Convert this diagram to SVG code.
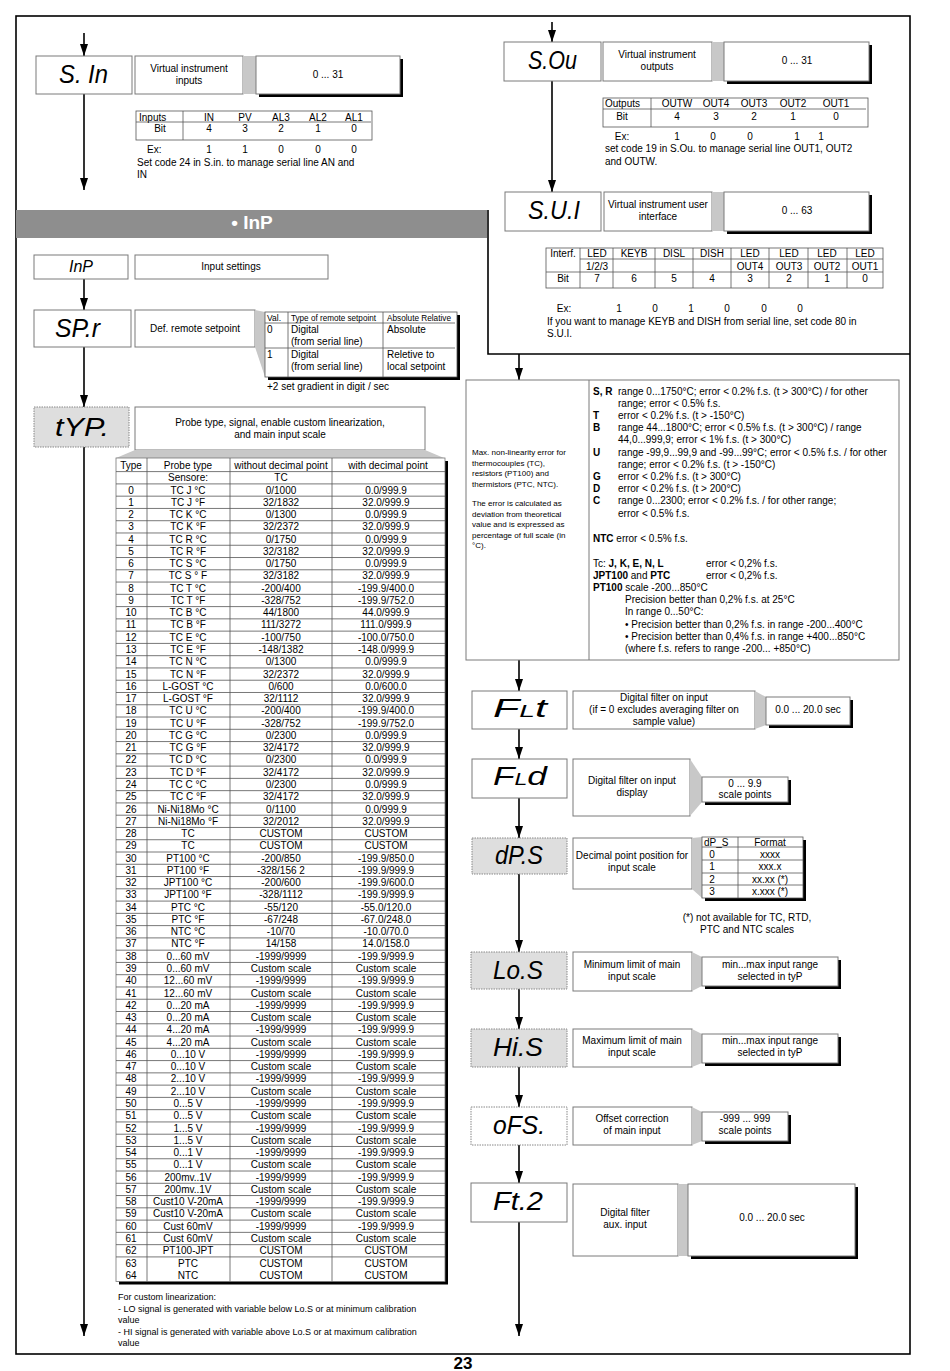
<svg xmlns="http://www.w3.org/2000/svg" width="950" height="1371" viewBox="0 0 950 1371">
<defs>
<marker id="arr" markerUnits="userSpaceOnUse" markerWidth="12" markerHeight="8" viewBox="0 -4 12 8" refX="12" refY="0" orient="auto">
<path d="M0,-4 L12,0 L0,4 z" fill="#000"/>
</marker>
</defs>
<style>
.t{font-family:"Liberation Sans",Arial,sans-serif;font-size:10px;fill:#000}
.s{font-size:9px}
.xs{font-size:8px}
.m{text-anchor:middle}
.b{font-weight:bold}
.seg{font-family:"Liberation Sans",Arial,sans-serif;font-size:26px;font-style:italic;fill:#000}
.box{fill:#fff;stroke:#7a7a7a;stroke-width:1}
.dbox{fill:#fff;stroke:#888;stroke-width:1;stroke-dasharray:1.5 1}
.gbox{fill:#dedede;stroke:#888;stroke-width:1;stroke-dasharray:1.5 1}
.sh{fill:#000}
.strip{fill:#c8c8c8}
.wedge{fill:#c8c8c8}
.tl{stroke:#555;stroke-width:0.8;fill:none}
.conn{stroke:#000;stroke-width:1.6;fill:none;marker-end:url(#arr)}
</style>
<rect x="0" y="0" width="950" height="1371" fill="#fff"/>
<g id="frame">
<rect x="16" y="16" width="894" height="1338" fill="none" stroke="#000" stroke-width="1.6"/>
<path d="M488 210 V354 H910" fill="none" stroke="#000" stroke-width="1.6"/>
<rect x="16" y="210" width="471" height="28" fill="#8e8e8e"/>
<text class="t b m" x="252" y="229" style="font-size:19px;fill:#fff">• InP</text>
<text class="t b m" x="463" y="1369" style="font-size:17px">23</text>
</g>

<g id="connectors">
<path class="conn" d="M84 33 V56"/>
<path class="conn" d="M84 94 V190"/>
<path class="conn" d="M84 279 V310"/>
<path class="conn" d="M84 347 V407"/>
<path class="conn" d="M84 447 V1336"/>
<path class="conn" d="M552 22 V42"/>
<path class="conn" d="M552 81 V192"/>
<path class="conn" d="M519 354 V380"/>
<path class="conn" d="M519 660 V691"/>
<path class="conn" d="M519 729 V759"/>
<path class="conn" d="M519 798 V838"/>
<path class="conn" d="M519 874 V952"/>
<path class="conn" d="M519 989 V1029"/>
<path class="conn" d="M519 1067 V1107"/>
<path class="conn" d="M519 1145 V1183"/>
<path class="conn" d="M519 1222 V1336"/>
</g>

<g id="node-sin">
<rect class="box" x="36" y="56" width="96" height="38"/>
<text class="seg" x="59" y="83" textLength="49" lengthAdjust="spacingAndGlyphs">S. In</text>
<rect class="box" x="135" y="56" width="108" height="38"/>
<text class="t m" x="189" y="72">Virtual instrument</text>
<text class="t m" x="189" y="84">inputs</text>
<rect class="strip" x="243" y="56" width="13" height="38"/>
<rect class="sh" x="259" y="59" width="144" height="38"/>
<rect class="box" x="256" y="56" width="144" height="38"/>
<text class="t m" x="328" y="78">0 ... 31</text>
<rect x="136" y="111" width="236" height="29" class="tl"/>
<path class="tl" d="M183 111 V140 M136 122 H371"/>
<text class="t" x="139" y="121">Inputs</text>
<text class="t m" x="209" y="121">IN</text><text class="t m" x="245" y="121">PV</text><text class="t m" x="281" y="121">AL3</text><text class="t m" x="318" y="121">AL2</text><text class="t m" x="354" y="121">AL1</text>
<text class="t m" x="160" y="132">Bit</text>
<text class="t m" x="209" y="132">4</text><text class="t m" x="245" y="132">3</text><text class="t m" x="281" y="132">2</text><text class="t m" x="318" y="132">1</text><text class="t m" x="354" y="132">0</text>
<text class="t" x="147" y="153">Ex:</text>
<text class="t m" x="209" y="153">1</text><text class="t m" x="245" y="153">1</text><text class="t m" x="281" y="153">0</text><text class="t m" x="318" y="153">0</text><text class="t m" x="354" y="153">0</text>
<text class="t" x="137" y="166">Set code 24 in S.in. to manage serial line AN and</text>
<text class="t" x="137" y="178">IN</text>
</g>

<g id="node-sou">
<rect class="box" x="504" y="42" width="97" height="39"/>
<text class="seg" x="528" y="69" textLength="49" lengthAdjust="spacingAndGlyphs">S.Ou</text>
<rect class="box" x="603" y="42" width="109" height="39"/>
<text class="t m" x="657" y="58">Virtual instrument</text>
<text class="t m" x="657" y="70">outputs</text>
<rect class="strip" x="712" y="42" width="12" height="39"/>
<rect class="sh" x="727" y="45" width="145" height="39"/>
<rect class="box" x="724" y="42" width="145" height="39"/>
<text class="t m" x="797" y="64">0 ... 31</text>
<rect x="603" y="98" width="265" height="29" class="tl"/>
<path class="tl" d="M651 98 V127 M603 109 H866"/>
<text class="t" x="605" y="107">Outputs</text>
<text class="t m" x="677" y="107">OUTW</text><text class="t m" x="716" y="107">OUT4</text><text class="t m" x="754" y="107">OUT3</text><text class="t m" x="793" y="107">OUT2</text><text class="t m" x="836" y="107">OUT1</text>
<text class="t m" x="622" y="120">Bit</text>
<text class="t m" x="677" y="120">4</text><text class="t m" x="716" y="120">3</text><text class="t m" x="754" y="120">2</text><text class="t m" x="793" y="120">1</text><text class="t m" x="836" y="120">0</text>
<text class="t m" x="622" y="140">Ex:</text>
<text class="t m" x="677" y="140">1</text><text class="t m" x="713" y="140">0</text><text class="t m" x="750" y="140">0</text><text class="t m" x="797" y="140">1</text><text class="t m" x="821" y="140">1</text>
<text class="t" x="605" y="152">set code 19 in S.Ou. to manage serial line OUT1, OUT2</text>
<text class="t" x="605" y="165">and OUTW.</text>
</g>

<g id="node-sui">
<rect class="box" x="505" y="192" width="96" height="39"/>
<text class="seg" x="528" y="219" textLength="52" lengthAdjust="spacingAndGlyphs">S.U.I</text>
<rect class="box" x="604" y="192" width="108" height="39"/>
<text class="t m" x="658" y="208">Virtual instrument user</text>
<text class="t m" x="658" y="220">interface</text>
<rect class="strip" x="712" y="192" width="12" height="39"/>
<rect class="sh" x="727" y="195" width="145" height="39"/>
<rect class="box" x="724" y="192" width="145" height="39"/>
<text class="t m" x="797" y="214">0 ... 63</text>
<rect x="546" y="248" width="337" height="40" class="tl"/>
<path class="tl" d="M580 248 V288 M613 248 V288 M655 248 V288 M693 248 V288 M731 248 V288 M769 248 V288 M808 248 V288 M847 248 V288 M580 259 H883 M546 272 H883"/>
<text class="t m" x="563" y="257">Interf.</text><text class="t m" x="597" y="257">LED</text><text class="t m" x="634" y="257">KEYB</text><text class="t m" x="674" y="257">DISL</text><text class="t m" x="712" y="257">DISH</text><text class="t m" x="750" y="257">LED</text><text class="t m" x="789" y="257">LED</text><text class="t m" x="827" y="257">LED</text><text class="t m" x="865" y="257">LED</text>
<text class="t m" x="597" y="269.5">1/2/3</text><text class="t m" x="750" y="269.5">OUT4</text><text class="t m" x="789" y="269.5">OUT3</text><text class="t m" x="827" y="269.5">OUT2</text><text class="t m" x="865" y="269.5">OUT1</text>
<text class="t m" x="563" y="282">Bit</text><text class="t m" x="597" y="282">7</text><text class="t m" x="634" y="282">6</text><text class="t m" x="674" y="282">5</text><text class="t m" x="712" y="282">4</text><text class="t m" x="750" y="282">3</text><text class="t m" x="789" y="282">2</text><text class="t m" x="827" y="282">1</text><text class="t m" x="865" y="282">0</text>
<text class="t m" x="564" y="312">Ex:</text>
<text class="t m" x="619" y="312">1</text><text class="t m" x="655" y="312">0</text><text class="t m" x="691" y="312">1</text><text class="t m" x="727" y="312">0</text><text class="t m" x="764" y="312">0</text><text class="t m" x="800" y="312">0</text>
<text class="t" x="547" y="325">If you want to manage KEYB and DISH from serial line, set code 80 in</text>
<text class="t" x="547" y="337">S.U.I.</text>
</g>

<g id="node-inp">
<rect class="box" x="34" y="255" width="94" height="24"/>
<text class="t m" x="81" y="272" style="font-size:16px;font-style:italic">InP</text>
<rect class="box" x="135" y="255" width="193" height="24"/>
<text class="t m" x="231" y="270">Input settings</text>
</g>

<g id="node-spr">
<rect class="box" x="34" y="310" width="97" height="37"/>
<text class="seg" x="55" y="337" textLength="45" lengthAdjust="spacingAndGlyphs">SP.r</text>
<rect class="box" x="135" y="310" width="120" height="37"/>
<text class="t m" x="195" y="332">Def. remote setpoint</text>
<polygon class="wedge" points="255,310 265,312 265,377 255,347"/>
<rect class="sh" x="268" y="315" width="192" height="65"/>
<rect x="265" y="312" width="192" height="65" fill="#fff" stroke="#555" stroke-width="0.8"/>
<path class="tl" d="M288 312 V377 M383 312 V377 M265 323 H455 M265 348 H455"/>
<text class="t s" x="267" y="321" textLength="14" lengthAdjust="spacingAndGlyphs">Val.</text>
<text class="t s" x="291" y="321" textLength="85" lengthAdjust="spacingAndGlyphs">Type of remote setpoint</text>
<text class="t s" x="387" y="321" textLength="64" lengthAdjust="spacingAndGlyphs">Absolute Relative</text>
<text class="t" x="267" y="333">0</text><text class="t" x="291" y="333">Digital</text><text class="t" x="291" y="345">(from serial line)</text><text class="t" x="387" y="333">Absolute</text>
<text class="t" x="267" y="358">1</text><text class="t" x="291" y="358">Digital</text><text class="t" x="291" y="370">(from serial line)</text><text class="t" x="387" y="358">Reletive to</text><text class="t" x="387" y="370">local setpoint</text>
<text class="t" x="267" y="390">+2 set gradient in digit / sec</text>
</g>

<g id="node-typ">
<rect class="gbox" x="34" y="407" width="95" height="40"/>
<text class="seg" x="55" y="436" textLength="54" lengthAdjust="spacingAndGlyphs">tYP.</text>
<rect class="box" x="135" y="407" width="290" height="43"/>
<text class="t m" x="280" y="426">Probe type, signal, enable custom linearization,</text>
<text class="t m" x="280" y="438">and main input scale</text>
<polygon class="wedge" points="135,450 425,450 444,458 116,458"/>
<rect class="sh" x="119" y="461" width="329" height="823.5"/>
<rect x="116" y="458" width="329" height="823.5" fill="#fff" stroke="#777" stroke-width="0.8"/>
<path class="tl" d="M147 458 V1281.5 M230 458 V1281.5 M332 458 V1281.5 M116 471.6 H445 M116 483.9h329m-329 12.27h329m-329 12.27h329m-329 12.27h329m-329 12.27h329m-329 12.27h329m-329 12.27h329m-329 12.27h329m-329 12.27h329m-329 12.27h329m-329 12.27h329m-329 12.27h329m-329 12.27h329m-329 12.27h329m-329 12.27h329m-329 12.27h329m-329 12.27h329m-329 12.27h329m-329 12.27h329m-329 12.27h329m-329 12.27h329m-329 12.27h329m-329 12.27h329m-329 12.27h329m-329 12.27h329m-329 12.27h329m-329 12.27h329m-329 12.27h329m-329 12.27h329m-329 12.27h329m-329 12.27h329m-329 12.27h329m-329 12.27h329m-329 12.27h329m-329 12.27h329m-329 12.27h329m-329 12.27h329m-329 12.27h329m-329 12.27h329m-329 12.27h329m-329 12.27h329m-329 12.27h329m-329 12.27h329m-329 12.27h329m-329 12.27h329m-329 12.27h329m-329 12.27h329m-329 12.27h329m-329 12.27h329m-329 12.27h329m-329 12.27h329m-329 12.27h329m-329 12.27h329m-329 12.27h329m-329 12.27h329m-329 12.27h329m-329 12.27h329m-329 12.27h329m-329 12.27h329m-329 12.27h329m-329 12.27h329m-329 12.27h329m-329 12.27h329m-329 12.27h329"/>
<text class="t m" x="131" y="468.5">Type</text><text class="t m" x="188" y="468.5">Probe type</text><text class="t m" x="281" y="468.5">without decimal point</text><text class="t m" x="388" y="468.5">with decimal point</text>
<text class="t m" x="188" y="481">Sensore:</text><text class="t m" x="281" y="481">TC</text>
<text class="t m" x="131" y="493.5">0<tspan x="131" dy="12.27">1</tspan><tspan x="131" dy="12.27">2</tspan><tspan x="131" dy="12.27">3</tspan><tspan x="131" dy="12.27">4</tspan><tspan x="131" dy="12.27">5</tspan><tspan x="131" dy="12.27">6</tspan><tspan x="131" dy="12.27">7</tspan><tspan x="131" dy="12.27">8</tspan><tspan x="131" dy="12.27">9</tspan><tspan x="131" dy="12.27">10</tspan><tspan x="131" dy="12.27">11</tspan><tspan x="131" dy="12.27">12</tspan><tspan x="131" dy="12.27">13</tspan><tspan x="131" dy="12.27">14</tspan><tspan x="131" dy="12.27">15</tspan><tspan x="131" dy="12.27">16</tspan><tspan x="131" dy="12.27">17</tspan><tspan x="131" dy="12.27">18</tspan><tspan x="131" dy="12.27">19</tspan><tspan x="131" dy="12.27">20</tspan><tspan x="131" dy="12.27">21</tspan><tspan x="131" dy="12.27">22</tspan><tspan x="131" dy="12.27">23</tspan><tspan x="131" dy="12.27">24</tspan><tspan x="131" dy="12.27">25</tspan><tspan x="131" dy="12.27">26</tspan><tspan x="131" dy="12.27">27</tspan><tspan x="131" dy="12.27">28</tspan><tspan x="131" dy="12.27">29</tspan><tspan x="131" dy="12.27">30</tspan><tspan x="131" dy="12.27">31</tspan><tspan x="131" dy="12.27">32</tspan><tspan x="131" dy="12.27">33</tspan><tspan x="131" dy="12.27">34</tspan><tspan x="131" dy="12.27">35</tspan><tspan x="131" dy="12.27">36</tspan><tspan x="131" dy="12.27">37</tspan><tspan x="131" dy="12.27">38</tspan><tspan x="131" dy="12.27">39</tspan><tspan x="131" dy="12.27">40</tspan><tspan x="131" dy="12.27">41</tspan><tspan x="131" dy="12.27">42</tspan><tspan x="131" dy="12.27">43</tspan><tspan x="131" dy="12.27">44</tspan><tspan x="131" dy="12.27">45</tspan><tspan x="131" dy="12.27">46</tspan><tspan x="131" dy="12.27">47</tspan><tspan x="131" dy="12.27">48</tspan><tspan x="131" dy="12.27">49</tspan><tspan x="131" dy="12.27">50</tspan><tspan x="131" dy="12.27">51</tspan><tspan x="131" dy="12.27">52</tspan><tspan x="131" dy="12.27">53</tspan><tspan x="131" dy="12.27">54</tspan><tspan x="131" dy="12.27">55</tspan><tspan x="131" dy="12.27">56</tspan><tspan x="131" dy="12.27">57</tspan><tspan x="131" dy="12.27">58</tspan><tspan x="131" dy="12.27">59</tspan><tspan x="131" dy="12.27">60</tspan><tspan x="131" dy="12.27">61</tspan><tspan x="131" dy="12.27">62</tspan><tspan x="131" dy="12.27">63</tspan><tspan x="131" dy="12.27">64</tspan></text>
<text class="t m" x="188" y="493.5">TC J °C<tspan x="188" dy="12.27">TC J °F</tspan><tspan x="188" dy="12.27">TC K °C</tspan><tspan x="188" dy="12.27">TC K °F</tspan><tspan x="188" dy="12.27">TC R °C</tspan><tspan x="188" dy="12.27">TC R °F</tspan><tspan x="188" dy="12.27">TC S °C</tspan><tspan x="188" dy="12.27">TC S ° F</tspan><tspan x="188" dy="12.27">TC T °C</tspan><tspan x="188" dy="12.27">TC T °F</tspan><tspan x="188" dy="12.27">TC B °C</tspan><tspan x="188" dy="12.27">TC B °F</tspan><tspan x="188" dy="12.27">TC E °C</tspan><tspan x="188" dy="12.27">TC E °F</tspan><tspan x="188" dy="12.27">TC N °C</tspan><tspan x="188" dy="12.27">TC N °F</tspan><tspan x="188" dy="12.27">L-GOST °C</tspan><tspan x="188" dy="12.27">L-GOST °F</tspan><tspan x="188" dy="12.27">TC U °C</tspan><tspan x="188" dy="12.27">TC U °F</tspan><tspan x="188" dy="12.27">TC G °C</tspan><tspan x="188" dy="12.27">TC G °F</tspan><tspan x="188" dy="12.27">TC D °C</tspan><tspan x="188" dy="12.27">TC D °F</tspan><tspan x="188" dy="12.27">TC C °C</tspan><tspan x="188" dy="12.27">TC C °F</tspan><tspan x="188" dy="12.27">Ni-Ni18Mo °C</tspan><tspan x="188" dy="12.27">Ni-Ni18Mo °F</tspan><tspan x="188" dy="12.27">TC</tspan><tspan x="188" dy="12.27">TC</tspan><tspan x="188" dy="12.27">PT100 °C</tspan><tspan x="188" dy="12.27">PT100 °F</tspan><tspan x="188" dy="12.27">JPT100 °C</tspan><tspan x="188" dy="12.27">JPT100 °F</tspan><tspan x="188" dy="12.27">PTC °C</tspan><tspan x="188" dy="12.27">PTC °F</tspan><tspan x="188" dy="12.27">NTC °C</tspan><tspan x="188" dy="12.27">NTC °F</tspan><tspan x="188" dy="12.27">0...60 mV</tspan><tspan x="188" dy="12.27">0...60 mV</tspan><tspan x="188" dy="12.27">12...60 mV</tspan><tspan x="188" dy="12.27">12...60 mV</tspan><tspan x="188" dy="12.27">0...20 mA</tspan><tspan x="188" dy="12.27">0...20 mA</tspan><tspan x="188" dy="12.27">4...20 mA</tspan><tspan x="188" dy="12.27">4...20 mA</tspan><tspan x="188" dy="12.27">0...10 V</tspan><tspan x="188" dy="12.27">0...10 V</tspan><tspan x="188" dy="12.27">2...10 V</tspan><tspan x="188" dy="12.27">2...10 V</tspan><tspan x="188" dy="12.27">0...5 V</tspan><tspan x="188" dy="12.27">0...5 V</tspan><tspan x="188" dy="12.27">1...5 V</tspan><tspan x="188" dy="12.27">1...5 V</tspan><tspan x="188" dy="12.27">0...1 V</tspan><tspan x="188" dy="12.27">0...1 V</tspan><tspan x="188" dy="12.27">200mv..1V</tspan><tspan x="188" dy="12.27">200mv..1V</tspan><tspan x="188" dy="12.27">Cust10 V-20mA</tspan><tspan x="188" dy="12.27">Cust10 V-20mA</tspan><tspan x="188" dy="12.27">Cust 60mV</tspan><tspan x="188" dy="12.27">Cust 60mV</tspan><tspan x="188" dy="12.27">PT100-JPT</tspan><tspan x="188" dy="12.27">PTC</tspan><tspan x="188" dy="12.27">NTC</tspan></text>
<text class="t m" x="281" y="493.5">0/1000<tspan x="281" dy="12.27">32/1832</tspan><tspan x="281" dy="12.27">0/1300</tspan><tspan x="281" dy="12.27">32/2372</tspan><tspan x="281" dy="12.27">0/1750</tspan><tspan x="281" dy="12.27">32/3182</tspan><tspan x="281" dy="12.27">0/1750</tspan><tspan x="281" dy="12.27">32/3182</tspan><tspan x="281" dy="12.27">-200/400</tspan><tspan x="281" dy="12.27">-328/752</tspan><tspan x="281" dy="12.27">44/1800</tspan><tspan x="281" dy="12.27">111/3272</tspan><tspan x="281" dy="12.27">-100/750</tspan><tspan x="281" dy="12.27">-148/1382</tspan><tspan x="281" dy="12.27">0/1300</tspan><tspan x="281" dy="12.27">32/2372</tspan><tspan x="281" dy="12.27">0/600</tspan><tspan x="281" dy="12.27">32/1112</tspan><tspan x="281" dy="12.27">-200/400</tspan><tspan x="281" dy="12.27">-328/752</tspan><tspan x="281" dy="12.27">0/2300</tspan><tspan x="281" dy="12.27">32/4172</tspan><tspan x="281" dy="12.27">0/2300</tspan><tspan x="281" dy="12.27">32/4172</tspan><tspan x="281" dy="12.27">0/2300</tspan><tspan x="281" dy="12.27">32/4172</tspan><tspan x="281" dy="12.27">0/1100</tspan><tspan x="281" dy="12.27">32/2012</tspan><tspan x="281" dy="12.27">CUSTOM</tspan><tspan x="281" dy="12.27">CUSTOM</tspan><tspan x="281" dy="12.27">-200/850</tspan><tspan x="281" dy="12.27">-328/156 2</tspan><tspan x="281" dy="12.27">-200/600</tspan><tspan x="281" dy="12.27">-328/1112</tspan><tspan x="281" dy="12.27">-55/120</tspan><tspan x="281" dy="12.27">-67/248</tspan><tspan x="281" dy="12.27">-10/70</tspan><tspan x="281" dy="12.27">14/158</tspan><tspan x="281" dy="12.27">-1999/9999</tspan><tspan x="281" dy="12.27">Custom scale</tspan><tspan x="281" dy="12.27">-1999/9999</tspan><tspan x="281" dy="12.27">Custom scale</tspan><tspan x="281" dy="12.27">-1999/9999</tspan><tspan x="281" dy="12.27">Custom scale</tspan><tspan x="281" dy="12.27">-1999/9999</tspan><tspan x="281" dy="12.27">Custom scale</tspan><tspan x="281" dy="12.27">-1999/9999</tspan><tspan x="281" dy="12.27">Custom scale</tspan><tspan x="281" dy="12.27">-1999/9999</tspan><tspan x="281" dy="12.27">Custom scale</tspan><tspan x="281" dy="12.27">-1999/9999</tspan><tspan x="281" dy="12.27">Custom scale</tspan><tspan x="281" dy="12.27">-1999/9999</tspan><tspan x="281" dy="12.27">Custom scale</tspan><tspan x="281" dy="12.27">-1999/9999</tspan><tspan x="281" dy="12.27">Custom scale</tspan><tspan x="281" dy="12.27">-1999/9999</tspan><tspan x="281" dy="12.27">Custom scale</tspan><tspan x="281" dy="12.27">-1999/9999</tspan><tspan x="281" dy="12.27">Custom scale</tspan><tspan x="281" dy="12.27">-1999/9999</tspan><tspan x="281" dy="12.27">Custom scale</tspan><tspan x="281" dy="12.27">CUSTOM</tspan><tspan x="281" dy="12.27">CUSTOM</tspan><tspan x="281" dy="12.27">CUSTOM</tspan></text>
<text class="t m" x="386" y="493.5">0.0/999.9<tspan x="386" dy="12.27">32.0/999.9</tspan><tspan x="386" dy="12.27">0.0/999.9</tspan><tspan x="386" dy="12.27">32.0/999.9</tspan><tspan x="386" dy="12.27">0.0/999.9</tspan><tspan x="386" dy="12.27">32.0/999.9</tspan><tspan x="386" dy="12.27">0.0/999.9</tspan><tspan x="386" dy="12.27">32.0/999.9</tspan><tspan x="386" dy="12.27">-199.9/400.0</tspan><tspan x="386" dy="12.27">-199.9/752.0</tspan><tspan x="386" dy="12.27">44.0/999.9</tspan><tspan x="386" dy="12.27">111.0/999.9</tspan><tspan x="386" dy="12.27">-100.0/750.0</tspan><tspan x="386" dy="12.27">-148.0/999.9</tspan><tspan x="386" dy="12.27">0.0/999.9</tspan><tspan x="386" dy="12.27">32.0/999.9</tspan><tspan x="386" dy="12.27">0.0/600.0</tspan><tspan x="386" dy="12.27">32.0/999.9</tspan><tspan x="386" dy="12.27">-199.9/400.0</tspan><tspan x="386" dy="12.27">-199.9/752.0</tspan><tspan x="386" dy="12.27">0.0/999.9</tspan><tspan x="386" dy="12.27">32.0/999.9</tspan><tspan x="386" dy="12.27">0.0/999.9</tspan><tspan x="386" dy="12.27">32.0/999.9</tspan><tspan x="386" dy="12.27">0.0/999.9</tspan><tspan x="386" dy="12.27">32.0/999.9</tspan><tspan x="386" dy="12.27">0.0/999.9</tspan><tspan x="386" dy="12.27">32.0/999.9</tspan><tspan x="386" dy="12.27">CUSTOM</tspan><tspan x="386" dy="12.27">CUSTOM</tspan><tspan x="386" dy="12.27">-199.9/850.0</tspan><tspan x="386" dy="12.27">-199.9/999.9</tspan><tspan x="386" dy="12.27">-199.9/600.0</tspan><tspan x="386" dy="12.27">-199.9/999.9</tspan><tspan x="386" dy="12.27">-55.0/120.0</tspan><tspan x="386" dy="12.27">-67.0/248.0</tspan><tspan x="386" dy="12.27">-10.0/70.0</tspan><tspan x="386" dy="12.27">14.0/158.0</tspan><tspan x="386" dy="12.27">-199.9/999.9</tspan><tspan x="386" dy="12.27">Custom scale</tspan><tspan x="386" dy="12.27">-199.9/999.9</tspan><tspan x="386" dy="12.27">Custom scale</tspan><tspan x="386" dy="12.27">-199.9/999.9</tspan><tspan x="386" dy="12.27">Custom scale</tspan><tspan x="386" dy="12.27">-199.9/999.9</tspan><tspan x="386" dy="12.27">Custom scale</tspan><tspan x="386" dy="12.27">-199.9/999.9</tspan><tspan x="386" dy="12.27">Custom scale</tspan><tspan x="386" dy="12.27">-199.9/999.9</tspan><tspan x="386" dy="12.27">Custom scale</tspan><tspan x="386" dy="12.27">-199.9/999.9</tspan><tspan x="386" dy="12.27">Custom scale</tspan><tspan x="386" dy="12.27">-199.9/999.9</tspan><tspan x="386" dy="12.27">Custom scale</tspan><tspan x="386" dy="12.27">-199.9/999.9</tspan><tspan x="386" dy="12.27">Custom scale</tspan><tspan x="386" dy="12.27">-199.9/999.9</tspan><tspan x="386" dy="12.27">Custom scale</tspan><tspan x="386" dy="12.27">-199.9/999.9</tspan><tspan x="386" dy="12.27">Custom scale</tspan><tspan x="386" dy="12.27">-199.9/999.9</tspan><tspan x="386" dy="12.27">Custom scale</tspan><tspan x="386" dy="12.27">CUSTOM</tspan><tspan x="386" dy="12.27">CUSTOM</tspan><tspan x="386" dy="12.27">CUSTOM</tspan></text>
<text class="t s" x="118" y="1300">For custom linearization:</text>
<text class="t s" x="118" y="1312">- LO signal is generated with variable below Lo.S or at minimum calibration</text>
<text class="t s" x="118" y="1323">value</text>
<text class="t s" x="118" y="1335">- HI signal is generated with variable above Lo.S or at maximum calibration</text>
<text class="t s" x="118" y="1346">value</text>
</g>

<g id="node-notes">
<rect x="466" y="380" width="433" height="280" fill="#fff" stroke="#7a7a7a" stroke-width="1"/>
<path d="M589 380 V660" stroke="#7a7a7a" stroke-width="1"/>
<text class="t xs" x="472" y="455">Max. non-linearity error for</text>
<text class="t xs" x="472" y="465.5">thermocouples (TC),</text>
<text class="t xs" x="472" y="476">resistors (PT100) and</text>
<text class="t xs" x="472" y="486.5">thermistors (PTC, NTC).</text>
<text class="t xs" x="472" y="506">The error is calculated as</text>
<text class="t xs" x="472" y="516.5">deviation from theoretical</text>
<text class="t xs" x="472" y="527">value and is expressed as</text>
<text class="t xs" x="472" y="537.5">percentage of full scale (in</text>
<text class="t xs" x="472" y="548">°C).</text>
<text class="t b" x="593" y="394.5">S, R</text><text class="t" x="618" y="394.5">range 0...1750°C; error &lt; 0.2% f.s. (t &gt; 300°C) / for other</text>
<text class="t" x="618" y="406.7">range; error &lt; 0.5% f.s.</text>
<text class="t b" x="593" y="418.9">T</text><text class="t" x="618" y="418.9">error &lt; 0.2% f.s. (t &gt; -150°C)</text>
<text class="t b" x="593" y="431.1">B</text><text class="t" x="618" y="431.1">range 44...1800°C; error &lt; 0.5% f.s. (t &gt; 300°C) / range</text>
<text class="t" x="618" y="443.3">44,0...999,9; error &lt; 1% f.s. (t &gt; 300°C)</text>
<text class="t b" x="593" y="455.5">U</text><text class="t" x="618" y="455.5">range -99,9...99,9 and -99...99°C; error &lt; 0.5% f.s. / for other</text>
<text class="t" x="618" y="467.7">range; error &lt; 0.2% f.s. (t &gt; -150°C)</text>
<text class="t b" x="593" y="479.9">G</text><text class="t" x="618" y="479.9">error &lt; 0.2% f.s. (t &gt; 300°C)</text>
<text class="t b" x="593" y="492.1">D</text><text class="t" x="618" y="492.1">error &lt; 0.2% f.s. (t &gt; 200°C)</text>
<text class="t b" x="593" y="504.3">C</text><text class="t" x="618" y="504.3">range 0...2300; error &lt; 0.2% f.s. / for other range;</text>
<text class="t" x="618" y="516.5">error &lt; 0.5% f.s.</text>
<text class="t" x="593" y="541.5"><tspan class="b">NTC</tspan> error &lt; 0.5% f.s.</text>
<text class="t" x="593" y="566.5">Tc: <tspan class="b">J, K, E, N, L</tspan></text><text class="t" x="706" y="566.5">error &lt; 0,2% f.s.</text>
<text class="t" x="593" y="578.7"><tspan class="b">JPT100</tspan> and <tspan class="b">PTC</tspan></text><text class="t" x="706" y="578.7">error &lt; 0,2% f.s.</text>
<text class="t" x="593" y="590.9"><tspan class="b">PT100</tspan> scale -200...850°C</text>
<text class="t" x="625" y="603.1">Precision better than 0,2% f.s. at 25°C</text>
<text class="t" x="625" y="615.3">In range 0...50°C:</text>
<text class="t" x="625" y="627.5">• Precision better than 0,2% f.s. in range -200...400°C</text>
<text class="t" x="625" y="639.7">• Precision better than 0,4% f.s. in range +400...850°C</text>
<text class="t" x="625" y="651.9">(where f.s. refers to range -200... +850°C)</text>
</g>

<g id="node-flt">
<rect class="box" x="472" y="691" width="95" height="38"/>
<text class="seg" x="493" y="717" textLength="54" lengthAdjust="spacingAndGlyphs">F<tspan style="font-size:17px">L</tspan>t</text>
<rect class="box" x="573" y="691" width="182" height="38"/>
<text class="t m" x="664" y="700.5">Digital filter on input</text>
<text class="t m" x="664" y="712.5">(if = 0 excludes averaging filter on</text>
<text class="t m" x="664" y="725">sample value)</text>
<polygon class="wedge" points="755,691 766,697 766,725 755,729"/>
<rect class="sh" x="769" y="700" width="84" height="28"/>
<rect class="box" x="766" y="697" width="84" height="28"/>
<text class="t m" x="808" y="713">0.0 ... 20.0 sec</text>
</g>

<g id="node-fld">
<rect class="box" x="472" y="759" width="95" height="39"/>
<text class="seg" x="493" y="785" textLength="54" lengthAdjust="spacingAndGlyphs">F<tspan style="font-size:17px">L</tspan>d</text>
<rect class="box" x="573" y="759" width="117" height="57"/>
<text class="t m" x="632" y="784">Digital filter on input</text>
<text class="t m" x="632" y="796">display</text>
<polygon class="wedge" points="690,759 702,777 702,802 690,816"/>
<rect class="sh" x="705" y="780" width="86" height="25"/>
<rect class="box" x="702" y="777" width="86" height="25"/>
<text class="t m" x="745" y="787">0 ... 9.9</text>
<text class="t m" x="745" y="798">scale points</text>
</g>

<g id="node-dps">
<rect class="gbox" x="472" y="838" width="95" height="36"/>
<text class="seg" x="495" y="864" textLength="48" lengthAdjust="spacingAndGlyphs">dP.S</text>
<rect class="box" x="573" y="838" width="119" height="51"/>
<text class="t m" x="632" y="859">Decimal point position for</text>
<text class="t m" x="632" y="871">input scale</text>
<polygon class="wedge" points="692,838 702,837 702,898 692,889"/>
<rect class="sh" x="705" y="840" width="101" height="61"/>
<rect x="702" y="837" width="101" height="61" fill="#fff" stroke="#555" stroke-width="0.8"/>
<path class="tl" d="M738 837 V898 M702 847 H803 M702 860 H803 M702 873 H803 M702 885 H803"/>
<text class="t" x="704" y="845.5">dP_S</text><text class="t m" x="770" y="845.5">Format</text>
<text class="t m" x="712" y="857.5">0</text><text class="t m" x="770" y="857.5">xxxx</text>
<text class="t m" x="712" y="870">1</text><text class="t m" x="770" y="870">xxx.x</text>
<text class="t m" x="712" y="882.5">2</text><text class="t m" x="770" y="882.5">xx.xx (*)</text>
<text class="t m" x="712" y="895">3</text><text class="t m" x="770" y="895">x.xxx (*)</text>
<text class="t m" x="747" y="920.5">(*) not available for TC, RTD,</text>
<text class="t m" x="747" y="932.5">PTC and NTC scales</text>
</g>

<g id="node-los">
<rect class="gbox" x="471" y="952" width="96" height="37"/>
<text class="seg" x="493" y="979" textLength="50" lengthAdjust="spacingAndGlyphs">Lo.S</text>
<rect class="box" x="573" y="952" width="119" height="39"/>
<text class="t m" x="632" y="967.5">Minimum limit of main</text>
<text class="t m" x="632" y="979.5">input scale</text>
<polygon class="wedge" points="692,952 702,957 702,986 692,991"/>
<rect class="sh" x="705" y="960" width="136" height="29"/>
<rect class="box" x="702" y="957" width="136" height="29"/>
<text class="t m" x="770" y="967.5">min...max input range</text>
<text class="t m" x="770" y="979.5">selected in tyP</text>
</g>

<g id="node-his">
<rect class="gbox" x="471" y="1029" width="96" height="38"/>
<text class="seg" x="493" y="1056" textLength="50" lengthAdjust="spacingAndGlyphs">Hi.S</text>
<rect class="box" x="573" y="1029" width="119" height="38"/>
<text class="t m" x="632" y="1044">Maximum limit of main</text>
<text class="t m" x="632" y="1056">input scale</text>
<polygon class="wedge" points="692,1029 702,1034 702,1063 692,1067"/>
<rect class="sh" x="705" y="1037" width="136" height="29"/>
<rect class="box" x="702" y="1034" width="136" height="29"/>
<text class="t m" x="770" y="1044">min...max input range</text>
<text class="t m" x="770" y="1056">selected in tyP</text>
</g>

<g id="node-ofs">
<rect class="dbox" x="471" y="1107" width="96" height="38"/>
<text class="seg" x="493" y="1134" textLength="52" lengthAdjust="spacingAndGlyphs">oFS.</text>
<rect class="box" x="573" y="1107" width="119" height="38"/>
<text class="t m" x="632" y="1122">Offset correction</text>
<text class="t m" x="632" y="1134">of main input</text>
<polygon class="wedge" points="692,1107 702,1112 702,1141 692,1145"/>
<rect class="sh" x="705" y="1115" width="86" height="29"/>
<rect class="box" x="702" y="1112" width="86" height="29"/>
<text class="t m" x="745" y="1122">-999 ... 999</text>
<text class="t m" x="745" y="1134">scale points</text>
</g>

<g id="node-ft2">
<rect class="box" x="471" y="1183" width="96" height="39"/>
<text class="seg" x="493" y="1210" textLength="50" lengthAdjust="spacingAndGlyphs">Ft.2</text>
<rect class="box" x="573" y="1184" width="105" height="72"/>
<text class="t m" x="625" y="1216">Digital filter</text>
<text class="t m" x="625" y="1228">aux. input</text>
<rect class="strip" x="678" y="1184" width="10" height="72"/>
<rect class="sh" x="691" y="1187" width="167" height="72"/>
<rect class="box" x="688" y="1184" width="167" height="72"/>
<text class="t m" x="772" y="1221">0.0 ... 20.0 sec</text>
</g>
</svg>
